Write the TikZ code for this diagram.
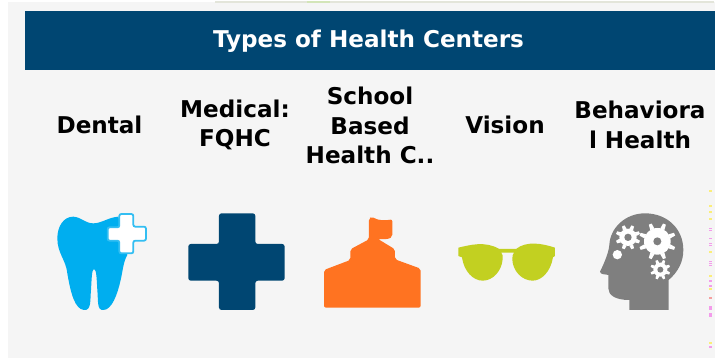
\documentclass[tikz,border=0pt]{standalone}
\usepackage{fontspec}
\setmainfont{DejaVu Sans}
\definecolor{panel}{HTML}{F5F5F5}
\definecolor{navy}{HTML}{004672}
\definecolor{sky}{HTML}{00AEEF}
\definecolor{orangeC}{HTML}{FF7321}
\definecolor{limeC}{HTML}{C2D021}
\definecolor{greyC}{HTML}{7F7F7F}
\definecolor{speckY}{HTML}{FBEE7A}
\definecolor{speckM}{HTML}{F39CEB}
\definecolor{speckR}{HTML}{F5A0A0}
\definecolor{stripC}{HTML}{E3E5DA}
\definecolor{stripG}{HTML}{D3E5B8}
\tikzset{
  label text/.style={font=\bfseries\fontsize{23.1}{29.7}\selectfont,align=center,text=black,inner sep=0pt},
}
\newcommand{\gearshape}[5]{% x,y,outer,inner,hole
  \fill[white] (#1,#2) circle[radius=#4];
  \foreach \a in {0,45,...,315}{
    \fill[white,shift={(#1,#2)},rotate=\a+22.5]
      (#4-1,-#5*0.55) -- (#3,-#5*0.38) -- (#3,#5*0.38) -- (#4-1,#5*0.55) -- cycle;}
  \fill[greyC] (#1,#2) circle[radius=#5];
}
\begin{document}
\begin{tikzpicture}[x=1pt,y=-1pt]
\useasboundingbox (0,0) rectangle (715,358);
\fill[white] (0,0) rectangle (715,358);
\fill[panel] (8,2) rectangle (715,358);
\fill[stripC] (215,1.5) rectangle (714,3);
\fill[stripG] (307,1.5) rectangle (330,3);
\node[fill=navy,minimum width=690pt,minimum height=59pt,inner sep=0pt,anchor=north west] (head) at (25,11) {};
\node[font=\bfseries\fontsize{23.1}{26}\selectfont,text=white,inner sep=0pt] (title) at (368.5,41) {Types of Health Centers};
\node[label text] (dental) at (99.5,125) {Dental};
\node[label text] (medical) at (235,125) {Medical:\\FQHC};
\node[label text] (school) at (370,125.5) {School\\Based\\Health C..};
\node[label text] (vision) at (505,125) {Vision};
\node[label text] (behav) at (640,125) {Behaviora\\l Health};
% tooth
\begin{scope}[shift={(40,200)},x=0.3333pt,y=-0.3333pt]
\fill[sky] (100,50) .. controls (125,52) and (135,70) .. (160,70)
  .. controls (185,70) and (205,52) .. (235,50)
  -- (262,165) .. controls (250,185) and (248,215) .. (242,240)
  .. controls (232,285) and (215,330) .. (190,330)
  .. controls (170,332) and (175,300) .. (172,270)
  .. controls (170,240) and (170,208) .. (162,207)
  .. controls (155,208) and (155,240) .. (153,270)
  .. controls (150,300) and (155,332) .. (132,330)
  .. controls (105,328) and (92,280) .. (82,220)
  .. controls (78,180) and (52,160) .. (52,115)
  .. controls (52,80) and (70,50) .. (100,50) -- cycle;
\fill[white,draw=sky!80!white,line width=1.8pt,rounded corners=2pt]
  (238,42) -- (280,42) -- (280,80) -- (318,80) -- (318,122) -- (280,122) -- (280,160)
  -- (238,160) -- (238,122) -- (203,122) -- (203,82) -- (238,82) -- cycle;
% blue cross
\fill[navy,rounded corners=2.5pt]
  (537,40) -- (646,40) -- (646,132) -- (734,132) -- (734,242) -- (646,242) -- (646,330)
  -- (537,330) -- (537,242) -- (445,242) -- (445,132) -- (537,132) -- cycle;
\end{scope}
% school
\begin{scope}[shift={(310,200)},x=0.3333pt,y=-0.3333pt]
\fill[orangeC,rounded corners=2pt]
  (42,210) -- (121,180) -- (121,148) -- (177,118) -- (177,55) -- (185,50)
  .. controls (205,62) and (225,62) .. (247,58)
  -- (247,110) .. controls (235,118) and (220,118) .. (204,117)
  -- (255,148) -- (255,178) -- (332,206) -- (332,323) -- (42,323) -- cycle;
% glasses
\fill[limeC] (445,143) .. controls (480,135) and (525,122) .. (568,147)
  -- (618,147) .. controls (650,122) and (695,130) .. (735,143)
  -- (735,168) -- (729,172)
  .. controls (722,215) and (695,242) .. (668,242)
  .. controls (635,242) and (608,212) .. (607,178)
  -- (608,166) -- (612,158) -- (574,158) -- (578,166) -- (578,178)
  .. controls (575,212) and (550,242) .. (518,242)
  .. controls (490,242) and (462,215) .. (456,172)
  -- (445,168) -- cycle;
\end{scope}
% head
\begin{scope}[shift={(590,200)},x=0.3333pt,y=-0.3333pt]
\fill[greyC] (118,330) -- (236,330) -- (236,240)
  .. controls (265,215) and (280,185) .. (280,150)
  .. controls (280,85) and (230,40) .. (165,40)
  .. controls (105,40) and (60,85) .. (58,135)
  .. controls (56,160) and (40,195) .. (30,215)
  .. controls (32,225) and (45,222) .. (55,225)
  -- (55,265) .. controls (55,285) and (75,300) .. (118,300) -- cycle;
\fill[white] (82,164) circle[radius=14];
\gearshape{114}{112}{37}{26}{11}
\gearshape{202}{124}{56}{40}{12}
\gearshape{211}{209}{30}{21}{9}
\end{scope}
% edge specks
\foreach \y in {190,205,211,218,251,275,288,342}{\fill[speckY] (709,\y) rectangle (711.5,\y+1.8);}
\foreach \y in {228,230,238,243,245,261,263,265,280,285,306,308,313,315}{\fill[speckM] (709,\y) rectangle (711.5,\y+1.5);}
\fill[speckM] (709,346) rectangle (711.5,347.8);
\fill[speckR] (709,297) rectangle (711.5,299);
\end{tikzpicture}
\end{document}
